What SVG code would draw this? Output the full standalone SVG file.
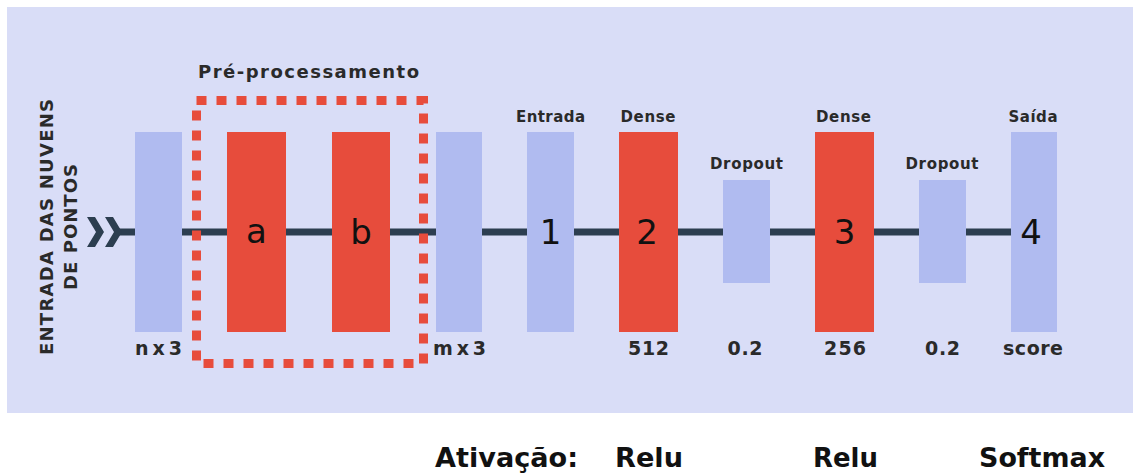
<svg xmlns="http://www.w3.org/2000/svg" width="1133" height="474" viewBox="0 0 1133 474">
<style>
.bg{fill:#d9ddf7}
.blue{fill:#b0bbf0}
.red{fill:#e74c3c}
.lbl{font-family:"DejaVu Sans",Verdana,sans-serif;font-weight:bold;fill:#2a2a2a;text-anchor:middle}
.top{font-size:15px}
.bot{font-size:19px}
.big{font-family:"DejaVu Sans",Verdana,sans-serif;font-size:34px;fill:#111;text-anchor:middle}
.act{font-family:"DejaVu Sans",Verdana,sans-serif;font-weight:bold;font-size:27px;fill:#111}
.conn{stroke:#2c3e50;stroke-width:7;fill:none}
</style>
<rect class="bg" x="7" y="7" width="1126" height="406"/>
<g id="input-label">
<text class="lbl" font-size="18" transform="translate(53,227) rotate(-90)" textLength="256" lengthAdjust="spacing">ENTRADA DAS NUVENS</text>
<text class="lbl" font-size="18" transform="translate(77,227) rotate(-90)" textLength="126" lengthAdjust="spacing">DE PONTOS</text>
</g>
<g id="connectors">
<line class="conn" x1="118" y1="232" x2="1020" y2="232"/>
<polygon fill="#2c3e50" points="87,217 95,217 104,232 95,247 87,247 96,232"/>
<polygon fill="#2c3e50" points="105,217 113,217 122,232 113,247 105,247 114,232"/>
</g>
<g id="preprocessing">
<text class="lbl" font-size="18" x="308.5" y="78" textLength="221" lengthAdjust="spacing">Pré-processamento</text>
<rect x="196.5" y="100.5" width="227" height="263" fill="none" stroke="#e74c3c" stroke-width="9" stroke-dasharray="10 10"/>
</g>
<g id="node-input">
<rect class="blue" x="135" y="132" width="47" height="200"/>
<text class="lbl bot" x="158.5" y="355" textLength="47" lengthAdjust="spacing">n x 3</text>
</g>
<g id="node-a">
<rect class="red" x="227" y="132" width="59" height="200"/>
<text class="big" x="256.5" y="243">a</text>
</g>
<g id="node-b">
<rect class="red" x="332" y="132" width="58" height="200"/>
<text class="big" x="361" y="244">b</text>
</g>
<g id="node-m">
<rect class="blue" x="436" y="132" width="46" height="200"/>
<text class="lbl bot" x="459.5" y="355" textLength="53" lengthAdjust="spacing">m x 3</text>
</g>
<g id="node-1">
<rect class="blue" x="527" y="132" width="47" height="200"/>
<text class="lbl top" x="550.5" y="122" textLength="69" lengthAdjust="spacing">Entrada</text>
<text class="big" x="550.5" y="244">1</text>
</g>
<g id="node-2">
<rect class="red" x="619" y="132" width="59" height="200"/>
<text class="lbl top" x="648" y="122" textLength="55" lengthAdjust="spacing">Dense</text>
<text class="big" x="647" y="244">2</text>
<text class="lbl bot" x="648.5" y="355" textLength="41" lengthAdjust="spacing">512</text>
</g>
<g id="node-dropout1">
<rect class="blue" x="723" y="180" width="47" height="103"/>
<text class="lbl top" x="746.5" y="169" textLength="73" lengthAdjust="spacing">Dropout</text>
<text class="lbl bot" x="745" y="355" textLength="35" lengthAdjust="spacing">0.2</text>
</g>
<g id="node-3">
<rect class="red" x="815" y="132" width="59" height="200"/>
<text class="lbl top" x="843.5" y="122" textLength="55" lengthAdjust="spacing">Dense</text>
<text class="big" x="844.5" y="244">3</text>
<text class="lbl bot" x="845" y="355" textLength="42" lengthAdjust="spacing">256</text>
</g>
<g id="node-dropout2">
<rect class="blue" x="919" y="180" width="47" height="103"/>
<text class="lbl top" x="942" y="169" textLength="73" lengthAdjust="spacing">Dropout</text>
<text class="lbl bot" x="942.5" y="355" textLength="35" lengthAdjust="spacing">0.2</text>
</g>
<g id="node-4">
<rect class="blue" x="1011" y="132" width="46" height="200"/>
<text class="lbl top" x="1033" y="122" textLength="49" lengthAdjust="spacing">Saída</text>
<text class="big" x="1031" y="244">4</text>
<text class="lbl bot" x="1033" y="355" textLength="60" lengthAdjust="spacing">score</text>
</g>
<g id="activations">
<text class="act" x="435" y="467" textLength="143" lengthAdjust="spacingAndGlyphs">Ativação:</text>
<text class="act" x="615" y="467" textLength="68" lengthAdjust="spacingAndGlyphs">Relu</text>
<text class="act" x="813" y="467" textLength="65" lengthAdjust="spacingAndGlyphs">Relu</text>
<text class="act" x="979" y="467" textLength="126" lengthAdjust="spacingAndGlyphs">Softmax</text>
</g>
</svg>
